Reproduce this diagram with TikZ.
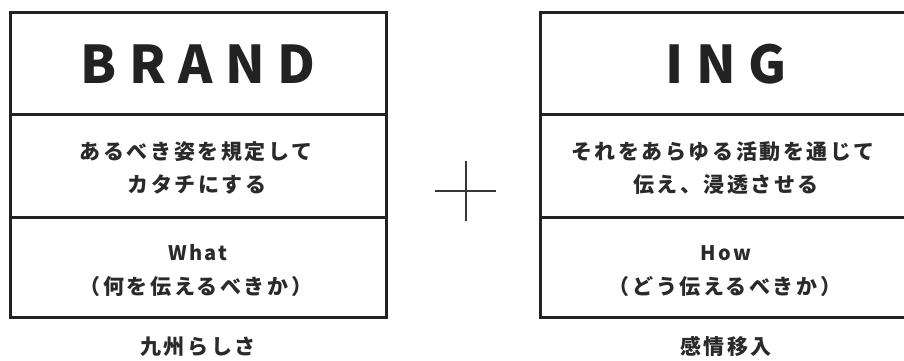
\documentclass[tikz,border=0pt]{standalone}
\usepackage{fontspec}
\setmainfont{Noto Sans CJK JP}
\newfontfamily\headfont{Noto Sans CJK JP Black}[LetterSpace=24]
\newfontfamily\bodyfont{Noto Sans CJK JP}[LetterSpace=12]
\newfontfamily\latfont{Noto Sans CJK JP}[LetterSpace=12]
\definecolor{ink}{HTML}{222222}
\definecolor{txt}{HTML}{2A2A2A}
\tikzset{
  cellbox/.style={draw=ink, line width=3pt, inner sep=0pt, outer sep=0pt},
  headtxt/.style={anchor=base, inner sep=0pt, text=ink, font=\headfont\fontsize{52}{52}\selectfont},
  bodytxt/.style={anchor=base, inner sep=0pt, text=txt, font=\bodyfont\bfseries\fontsize{21}{21}\selectfont},
  lattxt/.style={anchor=base, inner sep=0pt, text=txt, font=\latfont\bfseries\fontsize{20}{20}\selectfont},
  plusline/.style={draw=ink!90, line width=2.4pt}
}
\begin{document}
\begin{tikzpicture}[x=1pt,y=-1pt]
\useasboundingbox (0,0) rectangle (904,361);
\clip (0,0) rectangle (904,361);
% left column
\node[cellbox, minimum width=376pt, minimum height=101pt] (L1) at (198,63.5) {};
\node[cellbox, minimum width=376pt, minimum height=103pt] (L2) at (198,165.5) {};
\node[cellbox, minimum width=376pt, minimum height=100pt] (L3) at (198,267) {};
% right column
\node[cellbox, minimum width=372pt, minimum height=101pt] (R1) at (726,63.5) {};
\node[cellbox, minimum width=372pt, minimum height=103pt] (R2) at (726,165.5) {};
\node[cellbox, minimum width=372pt, minimum height=100pt] (R3) at (726,267) {};
% head texts
\node[headtxt] (brand) at (198,83) {BRAND};
\node[headtxt] (ing) at (726,83) {ING};
% left body
\node[bodytxt] (l2a) at (196,159) {あるべき姿を規定して};
\node[bodytxt] (l2b) at (197,192) {カタチにする};
\node[lattxt] (l3a) at (198,260.5) {What};
\node[bodytxt] (l3b) at (196,294) {（何を伝えるべきか）};
\node[bodytxt] (lcap) at (198,354) {九州らしさ};
% right body
\node[bodytxt] (r2a) at (723,159) {それをあらゆる活動を通じて};
\node[bodytxt] (r2b) at (726,192) {伝え、浸透させる};
\node[lattxt] (r3a) at (726,260.5) {How};
\node[bodytxt] (r3b) at (725,294) {（どう伝えるべきか）};
\node[bodytxt] (rcap) at (726,354) {感情移入};
% plus sign
\coordinate (pl) at (435,191);
\coordinate (pr) at (496,191);
\coordinate (pt) at (466,161);
\coordinate (pb) at (466,221);
\draw[plusline] (pl) -- (pr);
\draw[plusline] (pt) -- (pb);
\end{tikzpicture}
\end{document}
